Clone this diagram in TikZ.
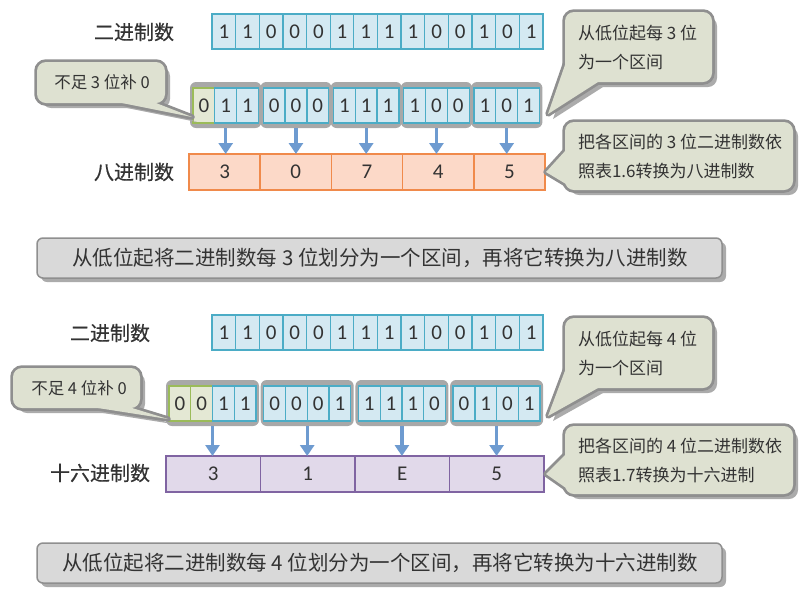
\documentclass[tikz,border=0pt]{standalone}
\usepackage{fontspec}
\setmainfont{Noto Sans CJK SC}
\newfontfamily\labelfont[FakeBold=0.6]{Noto Sans CJK SC}
\newfontfamily\digitfont{Carlito}
\usetikzlibrary{arrows.meta}
\definecolor{cellblue}{HTML}{D4E9F2}
\definecolor{cellteal}{HTML}{4BACC6}
\definecolor{padfill}{HTML}{E4E8D4}
\definecolor{padline}{HTML}{9BBB59}
\definecolor{octfill}{HTML}{FCD9C8}
\definecolor{octline}{HTML}{F08A4B}
\definecolor{hexfill}{HTML}{E1D9EA}
\definecolor{hexline}{HTML}{8064A2}
\definecolor{arrowblue}{HTML}{6E9BD0}
\definecolor{grpgray}{HTML}{A8A8A8}
\definecolor{callfill}{HTML}{DEE1D1}
\definecolor{callline}{HTML}{8F8F8F}
\definecolor{shadowgray}{HTML}{ABABAB}
\definecolor{bannerfill}{HTML}{D9D9D9}
\definecolor{txt}{HTML}{333333}
\newcommand\speech[3]{%
  \fill[shadowgray, rounded corners=9pt, shift={(5,5)}] #1 rectangle #2;
  \fill[shadowgray, shift={(5,5)}] #3 -- cycle;
  \draw[callline, line width=5.5pt, rounded corners=9pt] #1 rectangle #2;
  \draw[callline, line width=5.5pt, line join=round] #3 -- cycle;
  \fill[callfill, rounded corners=9pt] #1 rectangle #2;
  \fill[callfill] #3 -- cycle;
}
\newcommand\banner[2]{%
  \fill[shadowgray, rounded corners=6pt, shift={(4,4)}] #1 rectangle #2;
  \draw[fill=bannerfill, draw=callline, line width=1.5pt, rounded corners=6pt] #1 rectangle #2;
}
\begin{document}
\begin{tikzpicture}[x=1pt,y=-1pt,
  every node/.style={outer sep=0pt, inner sep=0pt},
  bitcell/.style={draw=cellteal, fill=cellblue, line width=1.3pt, minimum height=35pt, anchor=north west, font=\digitfont\fontsize{21}{21}\selectfont, text=txt},
  padcell/.style={bitcell, draw=padline, fill=padfill},
  grpbox/.style={fill=grpgray, rounded corners=6pt, anchor=north west},
  octcell/.style={draw=octline, fill=octfill, line width=1.5pt, minimum width=71.2pt, minimum height=36pt, anchor=north west, font=\digitfont\fontsize{21}{21}\selectfont, text=txt},
  hexcell/.style={octcell, draw=hexline, fill=hexfill, minimum width=94.5pt},
  conv/.style={draw=arrowblue, line width=3.2pt, -{Triangle[width=14pt,length=11pt]}},
  rowlabel/.style={font=\labelfont\fontsize{20}{20}\selectfont, text=txt},
  calltext/.style={font=\fontsize{17}{29}\selectfont, text=txt, align=left, anchor=west},
  bannertext/.style={font=\fontsize{20.5}{20.5}\selectfont, text=txt}
]
\useasboundingbox (0,0) rectangle (800,590);

% ================= Part 1: octal =================
\node[rowlabel] (lbin1) at (134,32) {二进制数};
\node[rowlabel] (loct) at (134,172) {八进制数};

\foreach \d [count=\i from 0] in {1,1,0,0,0,1,1,1,1,0,0,1,0,1}
  \node[bitcell, minimum width=23.64pt] (ta\i) at (212+23.64*\i,14) {\d};

\foreach \k in {0,...,4}
  \node[grpbox, minimum width=71.4pt, minimum height=46pt] (g\k) at (190+70.25*\k,82) {};

\foreach \d [count=\i from 0] in {0,1,1,0,0,0,1,1,1,1,0,0,1,0,1}{
  \pgfmathtruncatemacro\gk{\i/3}
  \pgfmathtruncatemacro\gj{mod(\i,3)}
  \ifnum\i=0 \def\cst{padcell}\else\def\cst{bitcell}\fi
  \node[\cst, minimum width=21.8pt] (pa\i) at (193+70.25*\gk+21.8*\gj,88) {\d};
}

\foreach \d [count=\k from 0] in {3,0,7,4,5}
  \node[octcell] (o\k) at (189+71.2*\k,154) {\d};

\foreach \k in {0,...,4}
  \draw[conv] (g\k.south) -- (g\k.south |- o\k.north);

\speech{(37,62)}{(165,103)}{(122,103) -- (192,117) -- (156,103)}
\node[font=\fontsize{16.5}{16.5}\selectfont, text=txt] (ca) at (102,82) {不足 3 位补 0};

\speech{(565,12)}{(712,82)}{(566,62) -- (548,114) -- (598,82)}
\node[calltext] (cb) at (578,47) {从低位起每 3 位\\为一个区间};

\speech{(565,122)}{(793,190)}{(566,150) -- (546,172) -- (566,184)}
\node[calltext] (cc) at (578,157) {把各区间的 3 位二进制数依\\照表1.6转换为八进制数};

\banner{(37,238)}{(722,278)}
\node[bannertext] (b1) at (380,258) {从低位起将二进制数每 3 位划分为一个区间，再将它转换为八进制数};

% ================= Part 2: hexadecimal =================
\node[rowlabel] (lbin2) at (110,333) {二进制数};
\node[rowlabel] (lhex) at (100,473) {十六进制数};

\foreach \d [count=\i from 0] in {1,1,0,0,0,1,1,1,1,0,0,1,0,1}
  \node[bitcell, minimum width=23.64pt] (tb\i) at (212+23.64*\i,315) {\d};

\foreach \k in {0,...,3}
  \node[grpbox, minimum width=93pt, minimum height=46pt] (q\k) at (166+94.7*\k,380) {};

\foreach \d [count=\i from 0] in {0,0,1,1,0,0,0,1,1,1,1,0,0,1,0,1}{
  \pgfmathtruncatemacro\gk{\i/4}
  \pgfmathtruncatemacro\gj{mod(\i,4)}
  \ifnum\i<2 \def\cst{padcell}\else\def\cst{bitcell}\fi
  \node[\cst, minimum width=21.75pt] (pb\i) at (169+94.7*\gk+21.75*\gj,386) {\d};
}

\foreach \d [count=\k from 0] in {3,1,E,5}
  \node[hexcell] (h\k) at (166+94.5*\k,456) {\d};

\foreach \k in {0,...,3}
  \draw[conv] (q\k.south) -- (q\k.south |- h\k.north);

\speech{(13,368)}{(140,408)}{(98,408) -- (168,419) -- (132,408)}
\node[font=\fontsize{16.5}{16.5}\selectfont, text=txt] (cd) at (79,388) {不足 4 位补 0};

\speech{(565,318)}{(712,388)}{(566,368) -- (548,416) -- (598,388)}
\node[calltext] (ce) at (578,353) {从低位起每 4 位\\为一个区间};

\speech{(565,426)}{(793,494)}{(566,454) -- (546,474) -- (566,488)}
\node[calltext] (cf) at (578,461) {把各区间的 4 位二进制数依\\照表1.7转换为十六进制};

\banner{(37,543)}{(722,583)}
\node[bannertext] (b2) at (380,563) {从低位起将二进制数每 4 位划分为一个区间，再将它转换为十六进制数};
\end{tikzpicture}
\end{document}
